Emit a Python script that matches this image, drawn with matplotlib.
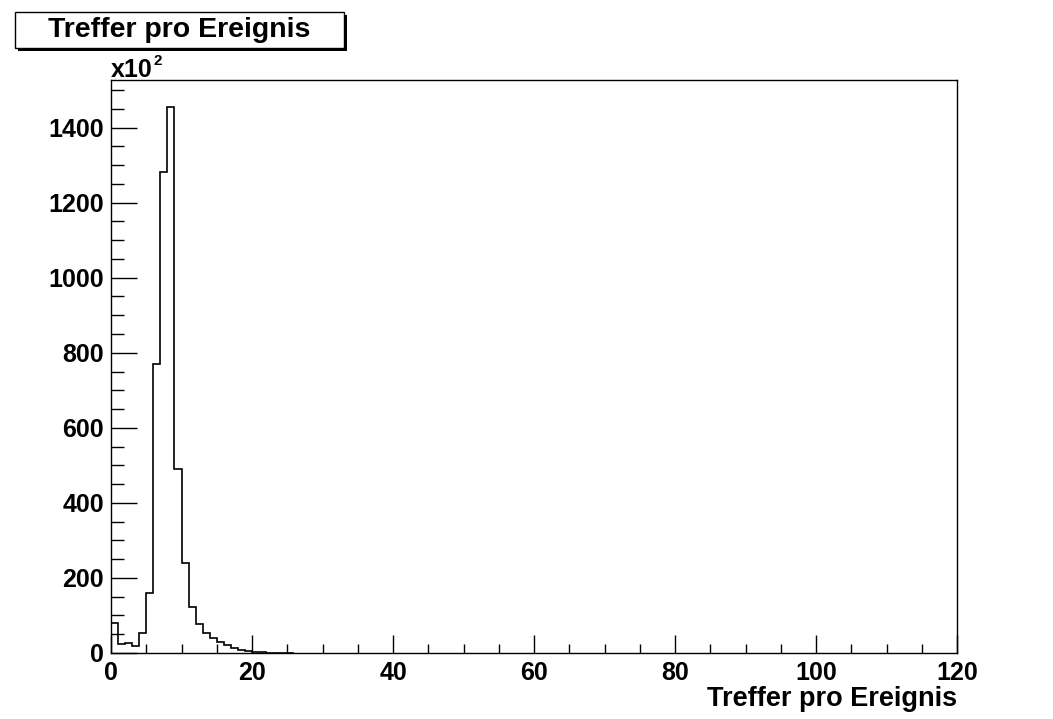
import numpy as np
import matplotlib.pyplot as plt
from matplotlib.patches import Rectangle

# hits per event, counts in units of 10^2, bins of width 1 starting at 0
counts = [79, 23, 26, 19, 54, 159, 771, 1282, 1454, 490, 241, 123, 77, 54,
          39, 28, 20, 13, 8, 4, 2, 1.5, 1, 0.7, 0.5, 0.3]
x_range = (0, 120)
title = "Treffer pro Ereignis"
xlabel = "Treffer pro Ereignis"

plt.rcParams['font.family'] = ['Liberation Sans', 'DejaVu Sans']
plt.rcParams['font.weight'] = 'bold'

W, H = 1053, 719
fig = plt.figure(figsize=(W / 100, H / 100), dpi=100)
ax = fig.add_axes([111 / W, 1 - 653 / H, (957 - 111) / W, (653 - 80) / H])

edges = np.arange(len(counts) + 1)
ax.stairs(counts, edges, color='black', linewidth=1.2)

ax.set_xlim(*x_range)
ax.set_ylim(0, 1.05 * max(counts))

ax.set_xticks(np.arange(0, 121, 20))
ax.set_xticks(np.arange(0, 121, 5), minor=True)
ax.set_yticks(np.arange(0, 1401, 200))
ax.set_yticks(np.arange(0, 1501, 50), minor=True)

ax.tick_params(axis='both', which='both', direction='in', width=1.0,
               labelsize=18)
ax.tick_params(axis='x', which='major', length=13, pad=6)
ax.tick_params(axis='x', which='minor', length=6.5)
ax.tick_params(axis='y', which='major', length=18.5, pad=5)
ax.tick_params(axis='y', which='minor', length=9)
for lab in ax.get_xticklabels() + ax.get_yticklabels():
    lab.set_fontweight('bold')
for sp in ax.spines.values():
    sp.set_linewidth(1.0)

fig.text(957 / W, 1 - 706 / H, xlabel, fontsize=19.5, fontweight='bold',
         ha='right', va='baseline')

# exponent label above the y axis
fig.text(111 / W, 1 - 77 / H, "x10", fontsize=18, fontweight='bold',
         ha='left', va='baseline')
fig.text(153 / W, 1 - 65 / H, "2", fontsize=11, fontweight='bold',
         ha='left', va='baseline')

# title box with shadow
bx0, by0, bx1, by1 = 15, 12, 344, 48
fig.patches.append(Rectangle(((bx0 + 3) / W, 1 - (by1 + 3) / H),
                             (bx1 - bx0) / W, (by1 - by0) / H,
                             transform=fig.transFigure, facecolor='black',
                             edgecolor='black', linewidth=0, zorder=1))
fig.patches.append(Rectangle((bx0 / W, 1 - by1 / H),
                             (bx1 - bx0) / W, (by1 - by0) / H,
                             transform=fig.transFigure, facecolor='white',
                             edgecolor='black', linewidth=1.0, zorder=2))
fig.text((bx0 + bx1) / 2 / W, 1 - (by0 + by1) / 2 / H, title, fontsize=20.5,
         fontweight='bold', ha='center', va='center', zorder=3)

fig.savefig("out.png", dpi=100)
